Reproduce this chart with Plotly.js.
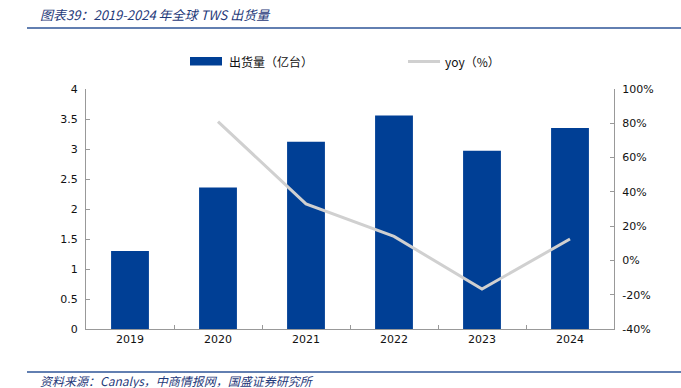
<!DOCTYPE html>
<html>
<head>
<meta charset="utf-8">
<script src="https://cdn.plot.ly/plotly-3.0.1.min.js"></script>
<style>html,body{margin:0;padding:0;background:#fff;}#chart{width:681px;height:388px;}</style>
</head>
<body>
<div id="chart"></div>
<script>
const years = ['2019', '2020', '2021', '2022', '2023', '2024'];
const shipments = [1.30, 2.36, 3.12, 3.56, 2.97, 3.35];
const yoy = [null, 81, 33, 14, -16.7, 12.5];
const yTicks = [0, 0.5, 1, 1.5, 2, 2.5, 3, 3.5, 4];
const y2Ticks = [-40, -20, 0, 20, 40, 60, 80, 100];
const y2TickText = y2Ticks.map(v => v + '%');
const seriesNames = ['出货量（亿台）', 'yoy（%）'];

const cjk = '"Noto Sans CJK SC", "DejaVu Sans", sans-serif';
const num = '"DejaVu Sans", "Noto Sans CJK SC", sans-serif';
const barColor = '#003F95';
const lineColor = '#D0D0D0';

// plot area in pixels: x 86..614, y 89..329
const px = v => (v - 86) / 528;
const py = v => (329 - v) / 240;

const traces = [
  {
    type: 'bar', x: years, y: shipments, name: seriesNames[0],
    marker: {color: barColor, line: {width: 0}}, width: 0.43,
    yaxis: 'y', hoverinfo: 'skip', showlegend: false
  },
  {
    type: 'scatter', mode: 'lines', x: years, y: yoy, name: seriesNames[1],
    line: {color: lineColor, width: 3}, yaxis: 'y2', connectgaps: false, hoverinfo: 'skip', showlegend: false
  }
];

const axisFont = {family: num, size: 11, color: '#111'};

const layout = {
  width: 681, height: 388,
  margin: {l: 86, r: 67, t: 89, b: 59},
  paper_bgcolor: '#fff', plot_bgcolor: '#fff',
  showlegend: false,
  font: {family: num, size: 11, color: '#111'},
  xaxis: {
    type: 'category', showgrid: false, zeroline: false,
    showline: true, linecolor: '#999', linewidth: 1,
    ticks: 'inside', tickson: 'boundaries', ticklen: 4, tickcolor: '#999',
    tickfont: axisFont, fixedrange: true
  },
  yaxis: {
    range: [0, 4], tickvals: yTicks, ticktext: yTicks.map(String),
    showgrid: false, zeroline: false, showline: true, linecolor: '#999', linewidth: 1,
    ticks: 'inside', ticklen: 4, tickcolor: '#999',
    tickfont: axisFont, ticklabelstandoff: 5
  },
  yaxis2: {
    range: [-40, 100], tickvals: y2Ticks, ticktext: y2TickText, overlaying: 'y', side: 'right',
    showgrid: false, zeroline: false, showline: true, linecolor: '#999', linewidth: 1,
    ticks: 'inside', ticklen: 4, tickcolor: '#999',
    tickfont: axisFont, ticklabelstandoff: 5
  },
  shapes: [
    {type: 'line', xref: 'paper', yref: 'paper', x0: px(27), x1: px(681), y0: py(28), y1: py(28),
     line: {color: '#2E5597', width: 1.5}},
    {type: 'line', xref: 'paper', yref: 'paper', x0: px(27), x1: px(681), y0: py(372), y1: py(372),
     line: {color: '#2E5597', width: 1.5}},
    // legend swatches
    {type: 'rect', xref: 'paper', yref: 'paper', x0: px(190), x1: px(222), y0: py(57), y1: py(65.5),
     fillcolor: barColor, line: {width: 0}},
    {type: 'line', xref: 'paper', yref: 'paper', x0: px(408), x1: px(440), y0: py(61.5), y1: py(61.5),
     line: {color: lineColor, width: 3}}
  ],
  annotations: [
    {text: '<i>图表39：2019-2024 年全球 TWS 出货量</i>', xref: 'paper', yref: 'paper',
     x: px(38), y: py(14), xanchor: 'left', yanchor: 'middle', showarrow: false,
     font: {family: cjk, size: 13, color: '#1F3A7A'}},
    {text: '<i>资料来源：Canalys，中商情报网，国盛证券研究所</i>', xref: 'paper', yref: 'paper',
     x: px(38), y: py(380), xanchor: 'left', yanchor: 'middle', showarrow: false,
     font: {family: cjk, size: 12, color: '#1F3A7A'}},
    {text: seriesNames[0], xref: 'paper', yref: 'paper',
     x: px(227), y: py(61.5), xanchor: 'left', yanchor: 'middle', showarrow: false,
     font: {family: cjk, size: 12, color: '#111'}},
    {text: seriesNames[1], xref: 'paper', yref: 'paper',
     x: px(443), y: py(61.5), xanchor: 'left', yanchor: 'middle', showarrow: false,
     font: {family: cjk, size: 12, color: '#111'}}
  ]
};

Plotly.newPlot('chart', traces, layout, {staticPlot: true, displayModeBar: false});
</script>
</body>
</html>
